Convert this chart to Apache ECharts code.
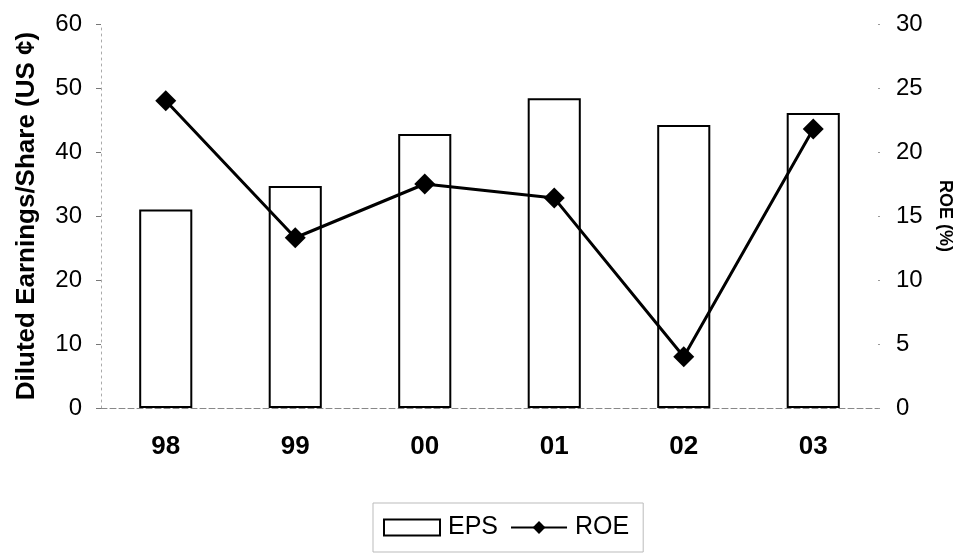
<!DOCTYPE html>
<html>
<head>
<meta charset="utf-8">
<script src="https://cdn.jsdelivr.net/npm/echarts@6/dist/echarts.min.js"></script>
<style>
  html, body { margin: 0; padding: 0; background: #fff; }
  #chart { width: 963px; height: 554px; }
</style>
</head>
<body>
<div id="chart"></div>
<script>
// Fiscal years
const years = ['98', '99', '00', '01', '02', '03'];
// Diluted earnings per share, US cents
const eps = [31, 34.7, 42.8, 48.4, 44.2, 46.1];
// Return on equity, percent
const roe = [24.0, 13.3, 17.5, 16.4, 4.0, 21.8];

const FONT = "'Liberation Sans', Arial, Helvetica, sans-serif";

const chart = echarts.init(document.getElementById('chart'), null, { renderer: 'canvas' });

chart.setOption({
  backgroundColor: '#ffffff',
  animation: false,
  textStyle: { fontFamily: FONT, color: '#000' },
  grid: { left: 101, right: 85, top: 24, bottom: 146, outerBoundsMode: 'none', containLabel: false },
  legend: {
    left: 373,
    top: 503,
    padding: [12, 14, 12, 10],
    itemGap: 12,
    itemWidth: 56,
    itemHeight: 16,
    borderColor: '#bbbbbb',
    borderWidth: 1,
    textStyle: { fontFamily: FONT, fontSize: 25, color: '#000', padding: [0, 0, 0, 3] },
    data: [
      { name: 'EPS', icon: 'rect' },
      { name: 'ROE' }
    ]
  },
  xAxis: {
    type: 'category',
    data: years,
    axisLine: { show: true, lineStyle: { color: '#888', width: 1, type: [6, 3] } },
    axisTick: { show: false },
    axisLabel: { fontFamily: FONT, fontSize: 26, fontWeight: 'bold', color: '#000', margin: 26 }
  },
  yAxis: [
    {
      type: 'value',
      min: 0, max: 60, interval: 10,
      name: 'Diluted Earnings/Share (US ¢)',
      nameLocation: 'middle',
      nameGap: 61,
      nameTextStyle: { fontFamily: FONT, fontSize: 26, fontWeight: 'bold', color: '#000' },
      axisLine: { show: true, lineStyle: { color: '#aaa', width: 1, type: [2, 4] } },
      axisTick: { show: true, length: 5, lineStyle: { color: '#777' } },
      axisLabel: { fontFamily: FONT, fontSize: 24, color: '#000', margin: 19 },
      splitLine: { show: false }
    },
    {
      type: 'value',
      min: 0, max: 30, interval: 5,
      name: 'ROE (%)',
      nameLocation: 'middle',
      nameGap: 58,
      nameRotate: -90,
      nameTextStyle: { fontFamily: FONT, fontSize: 18, fontWeight: 'bold', color: '#000' },
      axisLine: { show: false },
      axisTick: { show: true, length: 2, lineStyle: { color: '#999' } },
      axisLabel: { fontFamily: FONT, fontSize: 24, color: '#000', margin: 18 },
      splitLine: { show: false }
    }
  ],
  series: [
    {
      name: 'EPS',
      type: 'bar',
      yAxisIndex: 0,
      data: eps,
      barWidth: '41%',
      itemStyle: { color: '#ffffff', borderColor: '#000', borderWidth: 2 },
      z: 2
    },
    {
      name: 'ROE',
      type: 'line',
      yAxisIndex: 1,
      data: roe,
      symbol: 'diamond',
      symbolSize: 21,
      itemStyle: { color: '#000' },
      lineStyle: { color: '#000', width: 3 },
      z: 3
    }
  ]
});
</script>
</body>
</html>
